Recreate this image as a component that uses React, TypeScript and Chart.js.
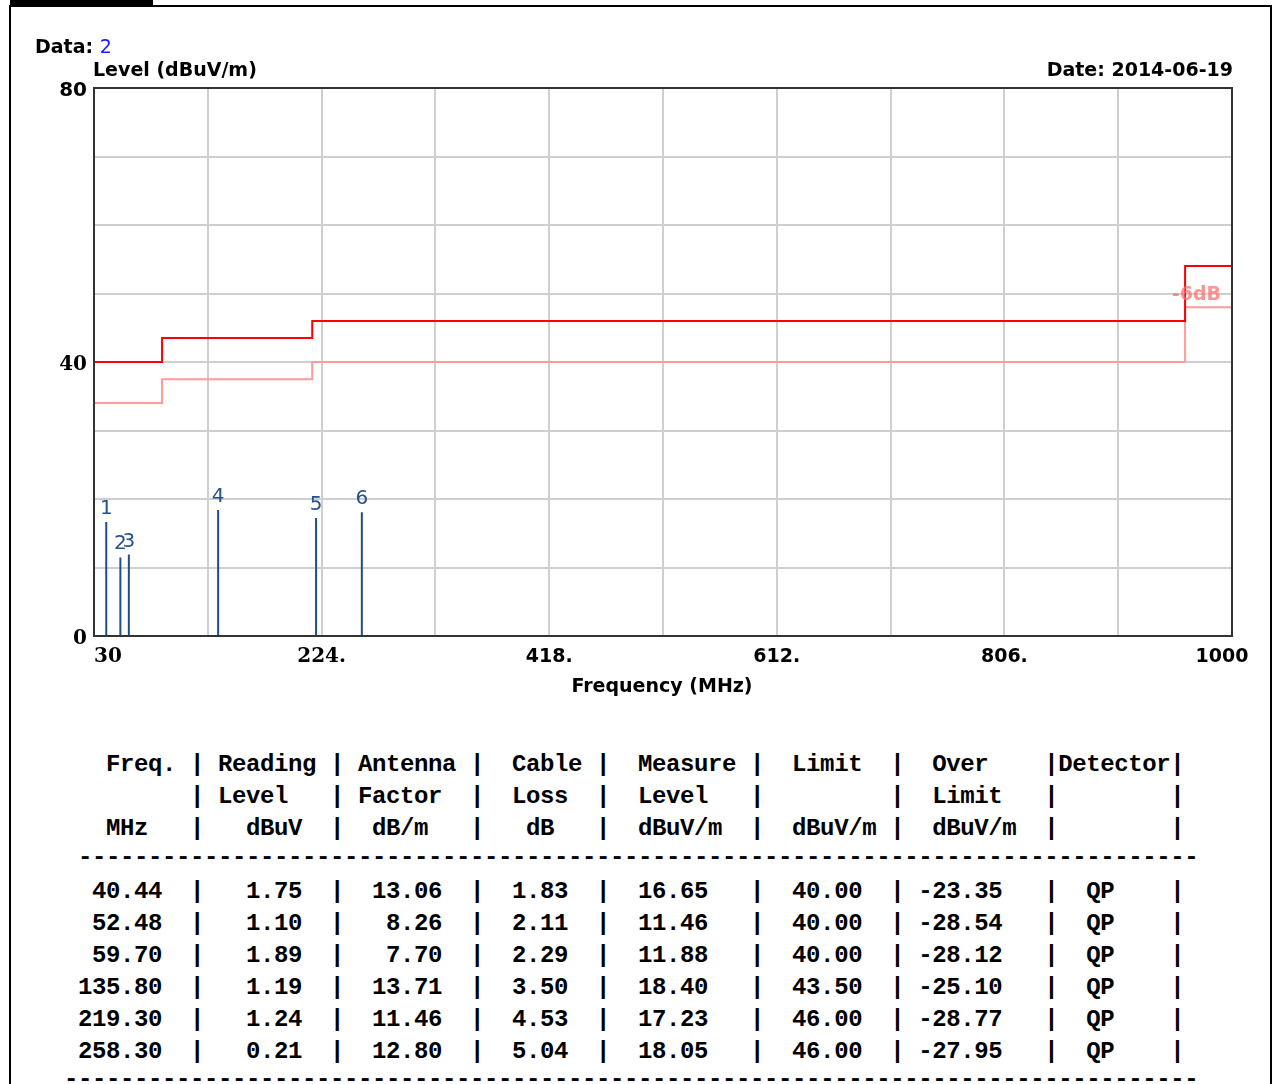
import React, { useEffect, useRef } from "react";
import { Chart, registerables } from "chart.js";

Chart.register(...registerables);

// ---- chart data ----
const limitFreqs = [30, 88, 216, 960, 1000];
const limitLevels = [40, 43.5, 46, 54, 54];
const marginLevels = [34, 37.5, 40, 48, 48];

const markerFreqs = [40.44, 52.48, 59.7, 135.8, 219.3, 258.3];
const markerLevels = [16.65, 11.46, 11.88, 18.4, 17.23, 18.05];
const markerLabels = ["1", "2", "3", "4", "5", "6"];

const xTickValues = [30, 224, 418, 612, 806, 1000];
const xTickLabels = ["30", "224.", "418.", "612.", "806.", "1000"];
const yTickValues = [0, 40, 80];
const yTickLabels = ["0", "40", "80"];

// ---- table data ----
const tableFreq = ["40.44", "52.48", "59.70", "135.80", "219.30", "258.30"];
const tableReading = ["1.75", "1.10", "1.89", "1.19", "1.24", "0.21"];
const tableAntenna = ["13.06", "8.26", "7.70", "13.71", "11.46", "12.80"];
const tableCable = ["1.83", "2.11", "2.29", "3.50", "4.53", "5.04"];
const tableMeasure = ["16.65", "11.46", "11.88", "18.40", "17.23", "18.05"];
const tableLimit = ["40.00", "40.00", "40.00", "43.50", "46.00", "46.00"];
const tableOver = ["-23.35", "-28.54", "-28.12", "-25.10", "-28.77", "-27.95"];
const tableDetector = ["QP", "QP", "QP", "QP", "QP", "QP"];

const headerLines = [
  "  Freq. | Reading | Antenna |  Cable |  Measure |  Limit  |  Over    |Detector|",
  "        | Level   | Factor  |  Loss  |  Level   |         |  Limit   |        |",
  "  MHz   |   dBuV  |  dB/m   |   dB   |  dBuV/m  |  dBuV/m |  dBuV/m  |        |",
];

const dataLines = tableFreq.map(
  (f, i) =>
    f.padStart(6) +
    "  |" +
    tableReading[i].padStart(7) +
    "  |" +
    tableAntenna[i].padStart(7) +
    "  |" +
    tableCable[i].padStart(6) +
    "  |" +
    tableMeasure[i].padStart(7) +
    "   |" +
    tableLimit[i].padStart(7) +
    "  |" +
    tableOver[i].padStart(7) +
    "   |" +
    tableDetector[i].padStart(4) +
    "    |"
);

const SANS = "'DejaVu Sans', sans-serif";
const SERIF = "'DejaVu Serif', serif";
const MONO = "'Liberation Mono', 'Courier New', monospace";

const overlayPlugin = {
  id: "overlay",
  afterDraw(chart: any) {
    const { ctx, chartArea: a } = chart;
    const xs = chart.scales.x;
    const ys = chart.scales.y;
    ctx.save();
    // plot frame
    ctx.strokeStyle = "#333333";
    ctx.lineWidth = 2;
    ctx.strokeRect(a.left, a.top, a.right - a.left, a.bottom - a.top);

    // x tick labels
    ctx.fillStyle = "#000000";
    ctx.textBaseline = "alphabetic";
    xTickValues.forEach((v, i) => {
      const px = xs.getPixelForValue(v);
      ctx.font = i < 2 ? `bold 20px ${SERIF}` : `bold 19px ${SANS}`;
      if (i === 0) {
        ctx.textAlign = "left";
        ctx.fillText(xTickLabels[i], px, a.bottom + 26);
      } else if (i === xTickValues.length - 1) {
        ctx.textAlign = "center";
        ctx.fillText(xTickLabels[i], px - 10, a.bottom + 26);
      } else {
        ctx.textAlign = "center";
        ctx.fillText(xTickLabels[i], px, a.bottom + 26);
      }
    });

    // y tick labels
    ctx.textAlign = "right";
    yTickValues.forEach((v, i) => {
      const py = ys.getPixelForValue(v);
      ctx.font = v === 80 ? `bold 20px ${SANS}` : `bold 20px ${SERIF}`;
      ctx.fillText(yTickLabels[i], a.left - 7, py + 8);
    });

    // marker labels
    ctx.font = `20px ${SANS}`;
    ctx.fillStyle = "#24528f";
    ctx.textAlign = "center";
    markerFreqs.forEach((f, i) => {
      const px = xs.getPixelForValue(f);
      const py = ys.getPixelForValue(markerLevels[i]);
      ctx.fillText(markerLabels[i], px, py - 8);
    });

    // -6dB label
    ctx.font = `bold 19px ${SANS}`;
    ctx.fillStyle = "rgba(255, 110, 110, 0.75)";
    ctx.textAlign = "right";
    const lastIdx = marginLevels.length - 1;
    ctx.fillText(
      "-6dB",
      xs.getPixelForValue(limitFreqs[lastIdx]) - 11,
      ys.getPixelForValue(marginLevels[lastIdx]) - 7
    );
    ctx.restore();
  },
};

function TextAt(props: {
  x: number;
  baseline: number;
  size: number;
  align?: "left" | "right" | "center";
  family?: string;
  weight?: string;
  color?: string;
  ascent?: number;
  children: React.ReactNode;
}) {
  const { x, baseline, size, align = "left", family = SANS, weight = "bold", color = "#000", ascent = 0.846 } = props;
  const top = baseline - ascent * size;
  const style: React.CSSProperties = {
    position: "absolute",
    top,
    fontFamily: family,
    fontSize: size,
    fontWeight: weight as any,
    lineHeight: `${size}px`,
    color,
    whiteSpace: "pre",
  };
  if (align === "left") style.left = x;
  else if (align === "right") style.right = 1274 - x;
  else {
    style.left = x - 300;
    style.width = 600;
    style.textAlign = "center";
  }
  return <div style={style}>{props.children}</div>;
}

export default function App() {
  const canvasRef = useRef<HTMLCanvasElement | null>(null);

  useEffect(() => {
    if (!canvasRef.current) return;
    const peakData: { x: number; y: number | null }[] = [];
    markerFreqs.forEach((f, i) => {
      peakData.push({ x: f, y: 0 });
      peakData.push({ x: f, y: markerLevels[i] });
      peakData.push({ x: f, y: null });
    });
    const chart = new Chart(canvasRef.current, {
      type: "line",
      data: {
        datasets: [
          {
            label: "Limit",
            data: limitFreqs.map((f, i) => ({ x: f, y: limitLevels[i] })),
            stepped: true,
            borderColor: "#ff0000",
            borderWidth: 2,
            pointRadius: 0,
            order: 0,
          },
          {
            label: "Limit -6dB",
            data: limitFreqs.map((f, i) => ({ x: f, y: marginLevels[i] })),
            stepped: true,
            borderColor: "#ff9a9a",
            borderWidth: 2,
            pointRadius: 0,
            order: 1,
          },
          {
            label: "Peaks",
            data: peakData as any,
            borderColor: "#1f4e8c",
            borderWidth: 2,
            pointRadius: 0,
            spanGaps: false,
            order: 2,
          },
        ],
      },
      options: {
        animation: false,
        responsive: false,
        devicePixelRatio: 1,
        layout: { padding: { left: 0, right: 42, top: 88, bottom: 0 } },
        plugins: {
          legend: { display: false },
          tooltip: { enabled: false },
          title: { display: false },
        },
        scales: {
          x: {
            type: "linear",
            min: 30,
            max: 1000,
            ticks: { stepSize: 97, display: false },
            grid: { color: "#cfcfcf", lineWidth: 2, drawTicks: false },
            border: { display: false },
            afterFit: (s: any) => {
              s.height = 84;
            },
          },
          y: {
            type: "linear",
            min: 0,
            max: 80,
            ticks: { stepSize: 10, display: false },
            grid: { color: "#cfcfcf", lineWidth: 2, drawTicks: false },
            border: { display: false },
            afterFit: (s: any) => {
              s.width = 94;
            },
          },
        },
      },
      plugins: [overlayPlugin],
    });
    return () => chart.destroy();
  }, []);

  const monoAscent = 0.766;
  const headerBaselines = [771, 803, 835];
  const rowBaselines = [898, 930, 962, 994, 1026, 1058];
  const monoStyle = (left: number, baseline: number): React.CSSProperties => ({
    position: "absolute",
    left,
    top: baseline - monoAscent * 24,
    fontFamily: MONO,
    fontWeight: "bold",
    fontSize: 24,
    lineHeight: "24px",
    letterSpacing: "-0.4px",
    whiteSpace: "pre",
    color: "#000",
  });

  return (
    <div
      style={{
        position: "absolute",
        left: 0,
        top: 0,
        width: 1274,
        height: 1084,
        overflow: "hidden",
        background: "#ffffff",
      }}
    >
      {/* outer frame */}
      <div style={{ position: "absolute", left: 10, top: 0, width: 143, height: 6, background: "#000" }} />
      <div
        style={{
          position: "absolute",
          left: 9,
          top: 5,
          width: 1259,
          height: 1200,
          borderTop: "2px solid #000",
          borderLeft: "2px solid #000",
          borderRight: "2px solid #000",
        }}
      />
      <canvas ref={canvasRef} width={1274} height={720} style={{ position: "absolute", left: 0, top: 0, display: "block" }} />

      <TextAt x={35} baseline={53} size={19}>
        Data: <span style={{ color: "#1a1aff", fontWeight: "normal" }}>2</span>
      </TextAt>
      <TextAt x={93} baseline={76} size={19}>
        Level (dBuV/m)
      </TextAt>
      <TextAt x={1233} baseline={76} size={19} align="right">
        Date: 2014-06-19
      </TextAt>
      <TextAt x={662} baseline={692} size={19} align="center">
        Frequency (MHz)
      </TextAt>

      {headerLines.map((l, i) => (
        <div key={"h" + i} style={monoStyle(78, headerBaselines[i])}>
          {l}
        </div>
      ))}
      <div style={monoStyle(78, 864)}>{"-".repeat(80)}</div>
      {dataLines.map((l, i) => (
        <div key={"r" + i} style={monoStyle(78, rowBaselines[i])}>
          {l}
        </div>
      ))}
      <div style={monoStyle(64, 1086)}>{"-".repeat(81)}</div>
    </div>
  );
}
